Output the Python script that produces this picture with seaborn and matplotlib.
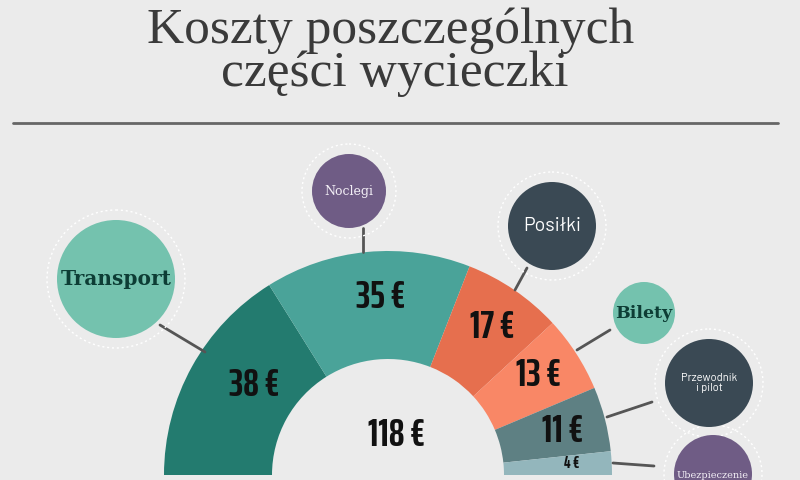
import seaborn as sns
import matplotlib.pyplot as plt
from matplotlib.patches import Circle

# data
categories = ['Transport', 'Noclegi', 'Posiłki', 'Bilety', 'Przewodnik\ni pilot', 'Ubezpieczenie']
costs = [38, 35, 17, 13, 11, 4]
total = sum(costs)
wedge_colors = ['#237b6f', '#4aa399', '#e66f4e', '#f98766', '#5e8083', '#93b6bc']

# bubble styling (pixel coords, y down)
bubble_pos = [(116, 279), (349, 191), (552, 226), (644, 313), (709, 383), (713, 474)]
bubble_r = [59, 37, 44, 31, 44, 39]
bubble_col = ['#74c2ae', '#6f5c85', '#3a4954', '#74c2ae', '#3a4954', '#6f5c85']
bubble_ring = [True, True, True, False, True, True]
label_pos = [(254, 386), (381, 298), (492, 327), (538, 376), (563, 432), (572, 463)]
label_size = [28, 28, 28, 28, 28, 12]
connectors = [((160, 325), (205, 352)), ((363, 228), (363, 252)), ((527, 268), (515, 290)),
              ((610, 330), (577, 350)), ((652, 402), (607, 417)), ((613, 463), (654, 466))]

sns.set_theme(style='white')
bg = '#ebebeb'
fig = plt.figure(figsize=(8, 4.8), dpi=100, facecolor=bg)
ax = fig.add_axes([0, 0, 1, 1])
ax.set_facecolor(bg)

# title
ax.text(391, 43, 'Koszty poszczególnych', ha='center', va='baseline', fontsize=37,
        family='Liberation Serif', color='#3a3a3a')
ax.text(395, 86, 'części wycieczki', ha='center', va='baseline', fontsize=37,
        family='Liberation Serif', color='#3a3a3a')
ax.plot([13, 778], [123, 123], color='#666666', lw=2)

# half donut
fracs = [c / (2 * total) for c in costs]
ax.pie(fracs, colors=wedge_colors, normalize=False, startangle=180, counterclock=True,
       center=(388, 475), radius=224, wedgeprops=dict(width=108, linewidth=0))
ax.set_xlim(0, 800)
ax.set_ylim(480, 0)
ax.set_aspect('equal')
ax.axis('off')

cond = ['Saira ExtraCondensed', 'DejaVu Sans']
for (x, y), c, s in zip(label_pos, costs, label_size):
    ax.text(x, y, f'{c} €', ha='center', va='center', fontsize=s, fontweight=700,
            family=cond, color='#111111')
ax.text(396, 435, f'{total} €', ha='center', va='center', fontsize=28, fontweight=700,
        family=cond, color='#111111')

# connectors
for (p0, p1) in connectors:
    ax.plot([p0[0], p1[0]], [p0[1], p1[1]], color='#555555', lw=2, zorder=1)

# bubbles
for i, (name, (x, y), r, col) in enumerate(zip(categories, bubble_pos, bubble_r, bubble_col)):
    if bubble_ring[i]:
        ax.add_patch(Circle((x, y), r + 10, fill=False, ec='white', lw=1, ls=(0, (1.5, 2)), zorder=2))
    ax.add_patch(Circle((x, y), r, fc=col, ec='none', zorder=3))

ax.text(116, 279, 'Transport', ha='center', va='center', fontsize=14.5, fontweight='heavy',
        family='DejaVu Serif', color='#0d3d35', zorder=4)
ax.text(349, 191, 'Noclegi', ha='center', va='center', fontsize=9,
        family='DejaVu Serif', color='#f2eef5', zorder=4)
ax.text(552, 226, 'Posiłki', ha='center', va='center', fontsize=14,
        family=['Barlow', 'DejaVu Sans'], color='white', zorder=4)
ax.text(644, 313, 'Bilety', ha='center', va='center', fontsize=12.5, fontweight='heavy',
        family='DejaVu Serif', color='#0d3d35', zorder=4)
ax.text(709, 383, 'Przewodnik\ni pilot', ha='center', va='center', fontsize=8,
        family=['Barlow', 'DejaVu Sans'], color='white', linespacing=1.1, zorder=4)
ax.text(713, 475, 'Ubezpieczenie', ha='center', va='center', fontsize=7,
        family='DejaVu Serif', color='#f2eef5', zorder=4)

fig.savefig('out.png', dpi=100, facecolor=bg)
